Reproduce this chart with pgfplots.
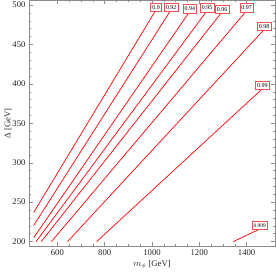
\documentclass[border=0pt]{standalone}
\usepackage{pgfplots}
\pgfplotsset{compat=1.18}
\usepackage{fontspec}
\setmainfont{Liberation Serif}
\usetikzlibrary{calc}
\definecolor{boxred}{RGB}{240,80,80}
\tikzset{lab/.style={pos=1, anchor=south, xshift=1.5bp, draw=boxred, solid, line width=0.7bp, fill=white,
    text=black, font=\fontsize{6}{6}\selectfont, inner xsep=1.6bp, inner ysep=2.2bp},
  ct/.style={red, solid, line width=0.7bp, mark=none}}
\begin{document}
\begin{tikzpicture}
\begin{axis}[
  scale only axis, width=246bp, height=246bp,
  xmin=480, xmax=1520, ymin=194, ymax=506,
  xtick={600,800,1000,1200,1400}, ytick={200,250,300,350,400,450,500},
  minor x tick num=3, minor y tick num=4,
  tick align=inside, major tick length=4bp, minor tick length=2.2bp,
  axis line style={black!45}, tick style={black!45, line width=0.4pt},
  every tick label/.append style={font=\fontsize{8.7}{10}\selectfont, text=black!85},
  /pgf/number format/assume math mode=true,
  /pgf/number format/set thousands separator={},
  xlabel={$m_\phi$ [GeV]}, ylabel={Δ [GeV]},
  label style={font=\fontsize{8.7}{10}\selectfont, text=black!85},
  xlabel style={at={(axis description cs:0.5,-0.075)}, anchor=center},
  ylabel style={at={(axis description cs:-0.086,0.5)}, anchor=center},
  clip=false,
]
\addplot[ct] coordinates {(500,237) (1011,491)} node[lab] {0.9};
\addplot[ct] coordinates {(500,220.5) (1075,491.4)} node[lab] {0.92};
\addplot[ct] coordinates {(500,205) (1154,489.5)} node[lab] {0.94};
\addplot[ct] coordinates {(510,200) (1227,490.5)} node[lab] {0.95};
\addplot[ct] coordinates {(532,200) (1290,489)} node[lab] {0.96};
\addplot[ct] coordinates {(575,200) (1394,490.8)} node[lab] {0.97};
\addplot[ct] coordinates {(643,200) (1468,467)} node[lab] {0.98};
\addplot[ct] coordinates {(766,200) (1460,392)} node[lab] {0.99};
\addplot[ct] coordinates {(1344,200) (1449,215)} node[lab, font=\fontsize{5.4}{6}\selectfont] {0.999};
\end{axis}
\pgfresetboundingbox
\path ($(current axis.south west)+(-29bp,-26.6bp)$) rectangle ($(current axis.north east)+(1bp,0.3bp)$);
\end{tikzpicture}
\end{document}
